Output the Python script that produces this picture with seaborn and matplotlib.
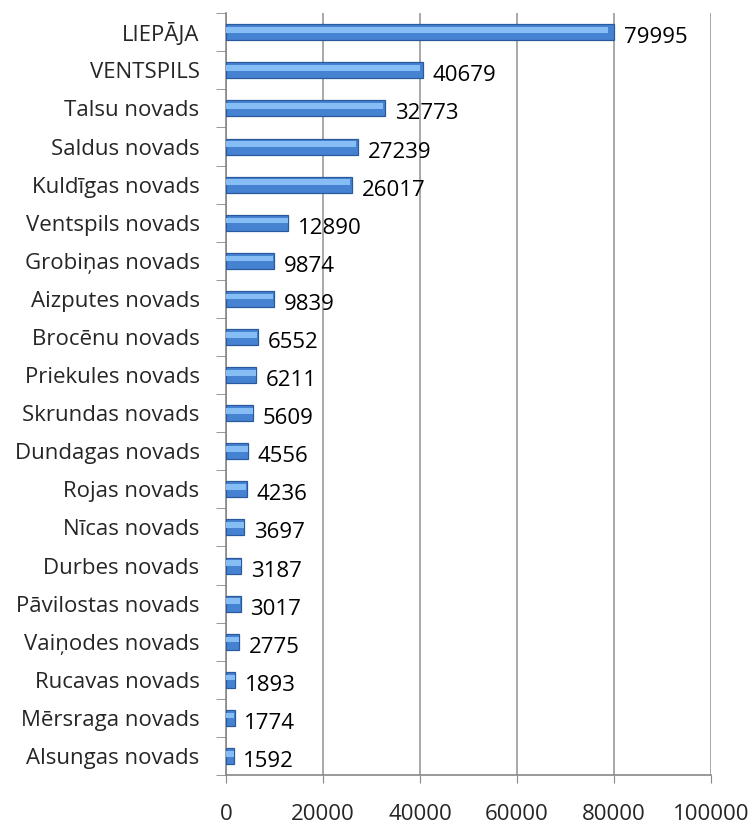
import matplotlib
matplotlib.use("Agg")
import matplotlib.pyplot as plt
import seaborn as sns
import pandas as pd

# data
regions = ["LIEPĀJA", "VENTSPILS", "Talsu novads", "Saldus novads", "Kuldīgas novads",
           "Ventspils novads", "Grobiņas novads", "Aizputes novads", "Brocēnu novads",
           "Priekules novads", "Skrundas novads", "Dundagas novads", "Rojas novads",
           "Nīcas novads", "Durbes novads", "Pāvilostas novads", "Vaiņodes novads",
           "Rucavas novads", "Mērsraga novads", "Alsungas novads"]
population = [79995, 40679, 32773, 27239, 26017, 12890, 9874, 9839, 6552, 6211,
              5609, 4556, 4236, 3697, 3187, 3017, 2775, 1893, 1774, 1592]
x_ticks = [0, 20000, 40000, 60000, 80000, 100000]

df = pd.DataFrame({"region": regions, "population": population})

sns.set_style("white")
plt.rcParams["font.family"] = ["Open Sans", "DejaVu Sans"]
fs = 16

fig = plt.figure(figsize=(7.55, 8.25), dpi=100)
ax = fig.add_axes([0.2993, 0.0606, 0.6424, 0.9234])

# bar body, then a lighter strip near the top for the rounded look
sns.barplot(data=df, x="population", y="region", orient="h", color="#4682d2",
            width=0.42, saturation=1, edgecolor="#2a5a9e", linewidth=0.9, ax=ax, zorder=3)
n_body = len(ax.patches)
sns.barplot(data=df, x="population", y="region", orient="h", color="#86bdf4",
            width=0.15, saturation=1, linewidth=0, ax=ax, zorder=4)
for p in ax.patches[n_body:]:
    p.set_y(p.get_y() - 0.06)
    p.set_width(p.get_width() * 0.985)

for i, v in enumerate(population):
    ax.annotate(f"{v}", (v, i), xytext=(7, -4), textcoords="offset points",
                va="center", ha="left", fontsize=fs, color="black", zorder=5)

ax.set_xlim(0, 100000)
ax.set_ylim(len(regions) - 0.5, -0.5)
ax.set_xticks(x_ticks)
ax.set_xticklabels([str(t) for t in x_ticks], fontsize=fs)
ax.set_xlabel("")
ax.set_ylabel("")
ax.tick_params(axis="y", labelsize=fs, length=0, pad=19)
ax.tick_params(axis="x", length=6, pad=15, color="#888888", direction="out", bottom=True)

# category boundary ticks on the y axis
ax.set_yticks([i + 0.5 for i in range(-1, len(regions))], minor=True)
ax.tick_params(axis="y", which="minor", length=7, color="#888888", left=True)

ax.grid(axis="x", color="#999999", linewidth=1.2, zorder=0)
ax.set_axisbelow(True)
for side in ["top", "right"]:
    ax.spines[side].set_visible(False)
for side in ["left", "bottom"]:
    ax.spines[side].set_color("#888888")
    ax.spines[side].set_linewidth(1.2)

fig.savefig("out.png", dpi=100)
